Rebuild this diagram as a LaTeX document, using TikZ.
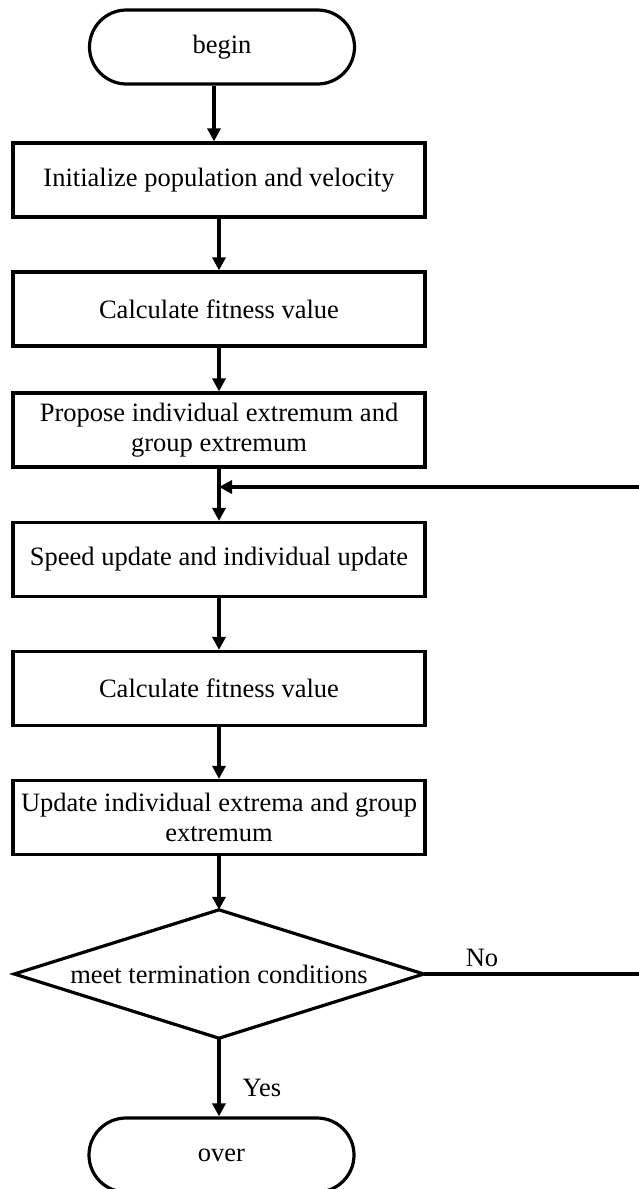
\documentclass[tikz,border=0pt]{standalone}
\usepackage{fontspec}
\setmainfont{Liberation Serif}
\usetikzlibrary{arrows.meta,calc}
\begin{document}
\begin{tikzpicture}[x=1pt,y=-1pt,
  every node/.style={font=\fontsize{26.5}{30}\selectfont},
  line/.style={line width=3.2pt},
  arr/.style={line width=3.2pt, -{Triangle[length=13pt,width=13pt]}},
  procbox/.style={draw, line width=3.2pt, minimum width=412pt, minimum height=74pt,
    inner sep=2pt, align=center},
  terminal/.style={draw, line width=3.2pt, minimum width=265pt, minimum height=74pt,
    rounded corners=37pt},
  lbl/.style={inner sep=0pt}]
  \useasboundingbox (0,0) rectangle (639,1189);

  % start and end terminals
  \node[terminal] (begin) at (222,47) {begin};
  \node[terminal] (over) at (221.5,1155) {over};

  % process steps
  \node[procbox] (init) at (219,180) {Initialize population and velocity};
  \node[procbox] (fit1) at (219,309) {Calculate fitness value};
  \node[procbox] (prop) at (219,430) {Propose individual extremum and\\group extremum};
  \node[procbox] (speed) at (219,559.5) {Speed update and individual update};
  \node[procbox] (fit2) at (219,688.5) {Calculate fitness value};
  \node[procbox] (upd) at (219,817.5) {Update individual extrema and group\\extremum};

  % decision
  \node[minimum width=409pt, minimum height=128pt, inner sep=0pt] (dec) at (219,974)
    {meet termination conditions};
  \draw[line, line join=miter] (dec.north) -- (dec.east) -- (dec.south) -- (dec.west) -- cycle;

  % main flow
  \draw[arr] ([xshift=-5pt]init.north |- begin.south) -- ([xshift=-5pt]init.north);
  \draw[arr] (init) -- (fit1);
  \draw[arr] (fit1) -- (prop);
  \draw[arr] (prop) -- (speed);
  \draw[arr] (speed) -- (fit2);
  \draw[arr] (fit2) -- (upd);
  \draw[arr] (upd) -- (dec.north);
  \draw[arr] (dec.south) -- (over.north -| dec.south);

  % loop back when the condition is not met
  \coordinate (rdown) at (642,974);
  \coordinate (rup) at (642,487);
  \coordinate (join) at (219,487);
  \draw[arr] (dec.east) -- (rdown) -- (rup) -- (join);

  % branch labels
  \node[lbl] (no) at (482,958) {No};
  \node[lbl] (yes) at (262,1088) {Yes};
\end{tikzpicture}
\end{document}
